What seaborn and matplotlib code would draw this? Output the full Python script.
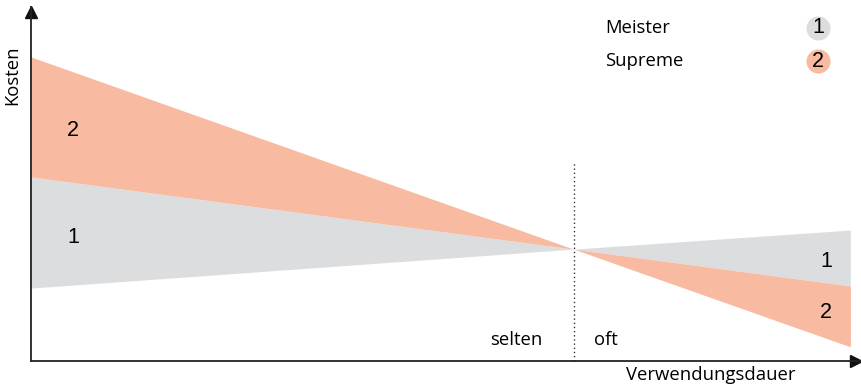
import matplotlib
matplotlib.use("Agg")
import matplotlib.pyplot as plt
import seaborn as sns

# Daten (relative Kosten ueber Verwendungsdauer, 0..100)
x_selten = [0, 65.3]
x_oft = [65.3, 98.6]
meister_selten_unten = [20.6, 31.6]
meister_selten_oben = [52.0, 31.6]
supreme_selten_oben = [85.9, 31.6]
meister_oft_oben = [31.6, 37.0]
grenze_oft = [31.6, 21.2]
supreme_oft_unten = [31.6, 4.0]
grenze_x = 65.3
grenze_oben = 55.9

serien = ["Meister", "Supreme"]
nummern = ["1", "2"]
farben = ["#DCDDDF", "#F8BBA1"]

sns.set_theme(style="white")
plt.rcParams["font.family"] = ["Open Sans", "DejaVu Sans"]
plt.rcParams["text.color"] = "black"

fig = plt.figure(figsize=(8.62, 3.9), dpi=100)
ax = fig.add_axes([31 / 862, 29 / 390, 831 / 862, 354 / 390])
ax.set_xlim(0, 100)
ax.set_ylim(0, 100)

# Flaechen links (selten)
ax.fill_between(x_selten, meister_selten_unten, meister_selten_oben,
                color=farben[0], lw=0)
ax.fill_between(x_selten, meister_selten_oben, supreme_selten_oben,
                color=farben[1], lw=0)
# Flaechen rechts (oft)
ax.fill_between(x_oft, grenze_oft, meister_oft_oben, color=farben[0], lw=0)
ax.fill_between(x_oft, supreme_oft_unten, grenze_oft, color=farben[1], lw=0)

# gepunktete Trennlinie
ax.plot([grenze_x, grenze_x], [0, grenze_oben], color="#333333",
        ls=(0, (1, 2)), lw=1)

# Achsen mit Pfeilen
sns.despine(ax=ax)
for s in ["left", "bottom"]:
    ax.spines[s].set_color("#222222")
    ax.spines[s].set_linewidth(1.3)
ax.set_xticks([])
ax.set_yticks([])
ax.plot(0.993, 0, ">", color="#111111", ms=9, transform=ax.transAxes,
        clip_on=False)
ax.plot(0, 0.985, "^", color="#111111", ms=9, transform=ax.transAxes,
        clip_on=False)

fs = 13.3
ziffer = dict(fontsize=15.5, family="Liberation Sans", ha="center", va="center")
ax.text(5.05, 65.0, nummern[1], **ziffer)
ax.text(5.05, 35.0, nummern[0], **ziffer)
ax.text(95.7, 28.0, nummern[0], **ziffer)
ax.text(95.7, 13.6, nummern[1], **ziffer)
ax.text(58.4, 5.9, "selten", fontsize=fs, ha="center", va="center")
ax.text(69.2, 5.9, "oft", fontsize=fs, ha="center", va="center")

ax.text(81.8, -4.0, "Verwendungsdauer", fontsize=fs, ha="center", va="center",
        clip_on=False)
ax.text(-2.3, 80.8, "Kosten", fontsize=fs, ha="center", va="center",
        rotation=90, clip_on=False)

# Legende
leg_y = [94.1, 84.7]
for name, nr, farbe, yy in zip(serien, nummern, farben, leg_y):
    ax.text(69.1, yy, name, fontsize=fs, ha="left", va="center")
    ax.scatter([94.7], [yy], s=300, color=farbe, lw=0, clip_on=False)
    ax.text(94.7, yy, nr, **ziffer)

fig.savefig("out.png", dpi=100)
